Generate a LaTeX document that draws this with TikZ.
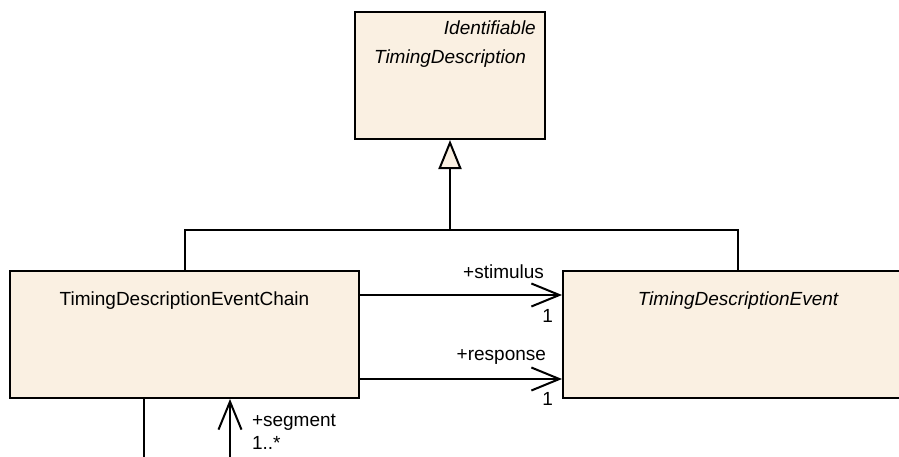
\documentclass[tikz,border=0pt]{standalone}
\usepackage{fontspec}
\setmainfont{Liberation Sans}
\usetikzlibrary{positioning,arrows.meta}

\definecolor{classfill}{RGB}{250,240,226}

\tikzset{
  umlclass/.style={draw, fill=classfill, line width=2pt, inner sep=0pt},
  umltext/.style={inner sep=0pt, font=\fontsize{19}{23}\selectfont},
  umlitalic/.style={umltext, font=\fontsize{19}{23}\selectfont\itshape},
  umlline/.style={line width=2pt},
  assoc/.style={umlline, -{Straight Barb[length=28pt, width=23pt]}},
  generalize/.style={umlline, -{Triangle[open, fill=classfill, length=29pt, width=23pt]}},
}

\begin{document}
\begin{tikzpicture}[x=1pt, y=-1pt]
  \useasboundingbox (0,0) rectangle (899,456);

  % classes
  \node[umlclass, anchor=north west, minimum width=190pt, minimum height=127pt] (desc) at (354,11) {};
  \node[umlitalic, below left=9.5pt and 10pt of desc.north east] (descstereo) {Identifiable};
  \node[umlitalic, below=39pt of desc.north] (descname) {TimingDescription};

  \node[umlclass, anchor=north west, minimum width=349pt, minimum height=127pt] (chain) at (9,270) {};
  \node[umltext, below=22pt of chain.north] (chainname) {TimingDescriptionEventChain};

  \node[umlclass, anchor=north west, minimum width=350pt, minimum height=127pt] (event) at (562,270) {};
  \node[umlitalic, below=22pt of event.north] (eventname) {TimingDescriptionEvent};

  % generalization
  \coordinate[below=90pt of desc.south] (genjoin);
  \draw[umlline] (chain.north) |- (genjoin) -| (event.north);
  \draw[generalize] (genjoin) -- (desc.south);

  % associations
  \draw[assoc] ([yshift=-25pt]chain.north east) -- ([yshift=-25pt]event.north west)
    node[umltext, pos=1, anchor=base east, xshift=-17pt, yshift=17pt] (stimrole) {+stimulus}
    node[umltext, pos=1, anchor=base east, xshift=-8pt, yshift=-27pt] (stimmult) {1};
  \draw[assoc] ([yshift=20pt]chain.south east) -- ([yshift=20pt]event.south west)
    node[umltext, pos=1, anchor=base east, xshift=-15pt, yshift=19pt] (resprole) {+response}
    node[umltext, pos=1, anchor=base east, xshift=-8pt, yshift=-26pt] (respmult) {1};

  \coordinate[below=62pt of chain.south, xshift=45.5pt] (segfoot);
  \coordinate[below=62pt of chain.south, xshift=-40.5pt] (ownfoot);
  \draw[assoc] (segfoot) -- (segfoot |- chain.south)
    node[umltext, pos=1, anchor=base west, xshift=21pt, yshift=-27pt] (segrole) {+segment}
    node[umltext, pos=1, anchor=base west, xshift=21pt, yshift=-50pt] (segmult) {1..*};
  \draw[umlline] (ownfoot |- chain.south) -- (ownfoot);
\end{tikzpicture}
\end{document}
